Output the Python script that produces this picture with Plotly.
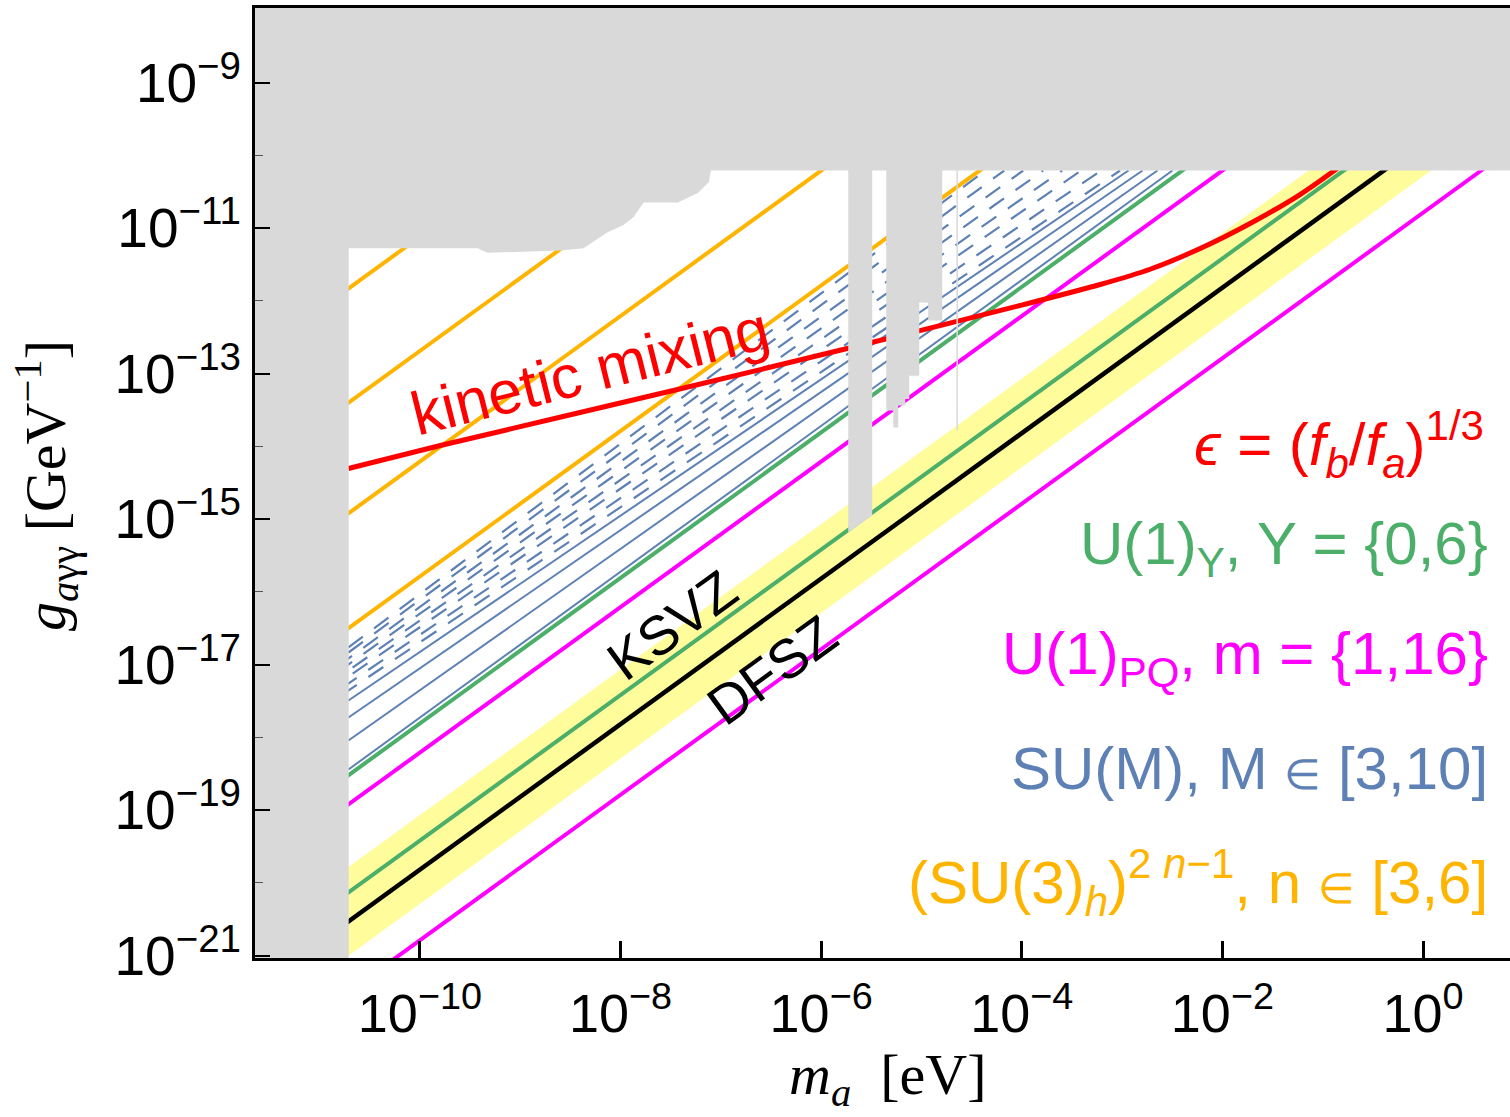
import numpy as np
import plotly.graph_objects as go

# ---------------------------------------------------------------
# Axis ranges (log10 of m_a [eV] and g_aγγ [GeV^-1])
# ---------------------------------------------------------------
X_RANGE = [-11.644, 0.867]
Y_RANGE = [-21.034, -7.976]

# Straight-line models g = g1 * (m_a / eV); values are log10(g1 / GeV^-1)
su3h_logg1 = [-1.12, -2.69, -4.21, -5.79]                 # (SU(3)_h)^(2n-1), n = 3..6
u1y_logg1 = [-7.81, -9.42]                                # U(1)_Y, Y = {0, 6}
u1pq_logg1 = [-8.21, -10.79]                              # U(1)_PQ, m = {1, 16}
qcd_logg1 = -9.82                                         # QCD axion line
qcd_band_logg1 = [-9.07, -10.29]                          # KSVZ/DFSZ band

# SU(M) lines, M = 3..10: each runs from the low-mass edge (m_lo) up to the
# helioscope limit (g_hi); stored as log10 values of those two end points.
SUM_LOGM_LO = -10.7125
SUM_LOGG_HI = -10.21
sum_dashed_logg_lo = [-16.766, -16.835, -16.918, -17.000, -17.082, -17.165, -17.261, -17.357]
sum_dashed_logm_hi = [-4.365, -4.175, -3.986, -3.787, -3.598, -3.408, -3.209, -3.020]
sum_solid_logg_lo = [-17.495, -17.729, -18.045, -18.443]
sum_solid_logm_hi = [-2.936, -2.796, -2.647, -2.498]

# Kinetic-mixing curve, eps = (f_b / f_a)^(1/3)
km_logm = [-10.7125, -9.796, -7.474, -5.740, -4.016, -3.219, -2.721, -2.222,
           -1.724, -1.226, -0.897, -0.568]
km_logg = [-14.306, -13.990, -13.234, -12.656, -12.065, -11.777, -11.567, -11.282,
           -10.938, -10.540, -10.224, -9.880]

# Excluded parameter space (outline, log10 values)
excl_logm = [-12.5, -10.71, -10.71, -9.425, -9.325, -8.598, -8.369, -8.13,
             -7.97, -7.87, -7.77, -7.63, -7.43, -7.23, -7.12, -7.10,
             -5.73, -5.73, -5.491, -5.491,
             -5.351, -5.351, -5.281, -5.281, -5.232, -5.232, -5.162, -5.162,
             -5.122, -5.122, -5.022, -5.022, -4.933, -4.933, -4.793, -4.793,
             1.5, 1.5, -12.5]
excl_logg = [-22.0, -22.0, -11.28, -11.28, -11.34, -11.31, -11.28, -11.06,
             -10.96, -10.85, -10.65, -10.65, -10.65, -10.52, -10.37, -10.21,
             -10.21, -15.186, -14.952, -10.21,
             -10.21, -13.509, -13.509, -13.742, -13.742, -13.44, -13.44, -13.35,
             -13.35, -13.03, -13.03, -12.024, -12.024, -12.27, -12.27, -10.21,
             -10.21, -7.0, -7.0]
# narrow excluded sliver
sliver_logm = [-4.644, -4.644]
sliver_logg = [-10.21, -13.784]

# Tick positions and labels
x_tick_exp = [-10, -8, -6, -4, -2, 0]
y_tick_exp = [-9, -11, -13, -15, -17, -19, -21]
y_minor_exp = [-10, -12, -14, -16, -18, -20]

ORANGE = "#FFB400"
BLUE = "#5E81B5"
GREEN = "#4BAE69"
MAGENTA = "#FF00FF"
RED = "#FF0000"
GRAY = "#D9D9D9"
YELLOW = "#FFFC9C"

SANS = "Liberation Sans, Arial, sans-serif"
SERIF = "Liberation Serif, Times New Roman, serif"

m_span = np.array([10 ** -12.0, 10 ** 1.2])
DASH = "18px,14px"


def line_trace(logg1, color, width, dash="solid"):
    return go.Scatter(x=m_span, y=10 ** logg1 * m_span, mode="lines",
                      line=dict(color=color, width=width, dash=dash),
                      hoverinfo="skip", showlegend=False)


def segment_trace(logg_lo, logm_hi, color, width, dash="solid", lead=0.0):
    # straight segment in log-log space; 'lead' starts it a little further
    # left (hidden under the excluded band) to stagger the dash phase
    slope = (SUM_LOGG_HI - logg_lo) / (logm_hi - SUM_LOGM_LO)
    lm = np.array([SUM_LOGM_LO - lead, logm_hi])
    lg = np.array([logg_lo - slope * lead, SUM_LOGG_HI])
    return go.Scatter(x=10 ** lm, y=10 ** lg, mode="lines",
                      line=dict(color=color, width=width, dash=dash),
                      hoverinfo="skip", showlegend=False)


fig = go.Figure()

# QCD band
lo, hi = min(qcd_band_logg1), max(qcd_band_logg1)
fig.add_trace(go.Scatter(
    x=[m_span[0], m_span[1], m_span[1], m_span[0]],
    y=[10 ** hi * m_span[0], 10 ** hi * m_span[1],
       10 ** lo * m_span[1], 10 ** lo * m_span[0]],
    fill="toself", fillcolor=YELLOW, line=dict(width=0), mode="lines",
    hoverinfo="skip", showlegend=False))

for c in su3h_logg1:
    fig.add_trace(line_trace(c, ORANGE, 4))
for i, (g_lo, m_hi) in enumerate(zip(sum_dashed_logg_lo, sum_dashed_logm_hi)):
    fig.add_trace(segment_trace(g_lo, m_hi, BLUE, 2.2, dash=DASH,
                                lead=0.11 * (i // 2)))
for g_lo, m_hi in zip(sum_solid_logg_lo, sum_solid_logm_hi):
    fig.add_trace(segment_trace(g_lo, m_hi, BLUE, 2))
for c in u1y_logg1:
    fig.add_trace(line_trace(c, GREEN, 4))
for c in u1pq_logg1:
    fig.add_trace(line_trace(c, MAGENTA, 4))
fig.add_trace(line_trace(qcd_logg1, "black", 4.5))

# kinetic mixing
fig.add_trace(go.Scatter(x=10 ** np.array(km_logm), y=10 ** np.array(km_logg),
                         mode="lines",
                         line=dict(color=RED, width=5, shape="spline", smoothing=0.8),
                         hoverinfo="skip", showlegend=False))

# excluded region on top
fig.add_trace(go.Scatter(x=10 ** np.array(excl_logm), y=10 ** np.array(excl_logg),
                         fill="toself", fillcolor=GRAY, mode="lines",
                         line=dict(width=0, color=GRAY),
                         hoverinfo="skip", showlegend=False))
fig.add_trace(go.Scatter(x=10 ** np.array(sliver_logm), y=10 ** np.array(sliver_logg),
                         mode="lines", line=dict(color=GRAY, width=1.5),
                         hoverinfo="skip", showlegend=False))


def pow10(e):
    return "10<sup>" + ("−" + str(-e) if e < 0 else str(e)) + "</sup>"


fig.update_xaxes(
    type="log", range=X_RANGE,
    tickmode="array", tickvals=[10.0 ** e for e in x_tick_exp],
    ticktext=[pow10(e) for e in x_tick_exp],
    ticks="inside", ticklen=17, tickwidth=3, tickcolor="black",
    showline=True, linewidth=3, linecolor="black", mirror=True,
    showgrid=False, zeroline=False,
    tickfont=dict(family=SANS, size=54, color="black"),
    ticklabelstandoff=6,
)
fig.update_yaxes(
    type="log", range=Y_RANGE,
    tickmode="array", tickvals=[10.0 ** e for e in y_tick_exp],
    ticktext=[pow10(e) for e in y_tick_exp],
    ticks="inside", ticklen=15, tickwidth=2, tickcolor="black",
    minor=dict(tickvals=[10.0 ** e for e in y_minor_exp], ticks="inside",
               ticklen=8, tickwidth=1, tickcolor="#555555"),
    showline=True, linewidth=3, linecolor="black",
    showgrid=False, zeroline=False,
    tickfont=dict(family=SANS, size=55, color="black"),
    ticklabelstandoff=0,
)

W, H = 1510, 1117
L, R, T, B = 255, 0, 8, 159
pw, ph = W - L - R, H - T - B


def px(xp):
    return (xp - L) / pw


def py(yp):
    return (H - B - yp) / ph


ELEM = '<span style="font-size:42px">∈</span>'

annotations = [
    dict(text="<i>m</i><sub><i>a</i></sub>  [eV]", xref="paper", yref="paper",
         x=px(887), y=py(1078), showarrow=False,
         font=dict(family=SERIF, size=58, color="black"),
         xanchor="center", yanchor="middle"),
    dict(text="<i>g</i><sub><i>a</i>γγ</sub> [GeV<sup>−1</sup>]", xref="paper", yref="paper",
         x=px(46), y=py(486), showarrow=False, textangle=-90,
         font=dict(family=SERIF, size=58, color="black"),
         xanchor="center", yanchor="middle"),
    dict(text="kinetic mixing", xref="x", yref="y", x=-8.30, y=-12.97,
         showarrow=False, textangle=-14,
         font=dict(family=SANS, size=61, color=RED)),
    dict(text="KSVZ", xref="x", yref="y", x=-7.484, y=-16.45,
         showarrow=False, textangle=-36,
         font=dict(family=SANS, size=55, color="black")),
    dict(text="DFSZ", xref="x", yref="y", x=-6.49, y=-17.07,
         showarrow=False, textangle=-36,
         font=dict(family=SANS, size=55, color="black")),
]

right_labels = [
    ("<i>ϵ</i> = (<i>f</i><sub><i>b</i></sub>/<i>f</i><sub><i>a</i></sub>)<sup>1/3</sup>", RED, 445, 1486),
    ("U(1)<sub>Y</sub>, Y = {0,6}", GREEN, 548, 1490),
    ("U(1)<sub>PQ</sub>, m = {1,16}", MAGENTA, 658, 1490),
    ("SU(M), M " + ELEM + " [3,10]", BLUE, 768, 1490),
    ("(SU(3)<sub><i>h</i></sub>)<sup>2 <i>n</i>−1</sup>, n " + ELEM + " [3,6]", ORANGE, 882, 1490),
]
for txt, col, yc, xr in right_labels:
    annotations.append(dict(text=txt, xref="paper", yref="paper",
                            x=px(xr), y=py(yc), showarrow=False,
                            xanchor="right", yanchor="middle",
                            font=dict(family=SANS, size=60, color=col)))

fig.update_layout(
    width=W, height=H,
    margin=dict(l=L, r=R, t=T, b=B, pad=0),
    paper_bgcolor="white", plot_bgcolor="white",
    showlegend=False,
    annotations=annotations,
)

fig.write_html("out.html")
